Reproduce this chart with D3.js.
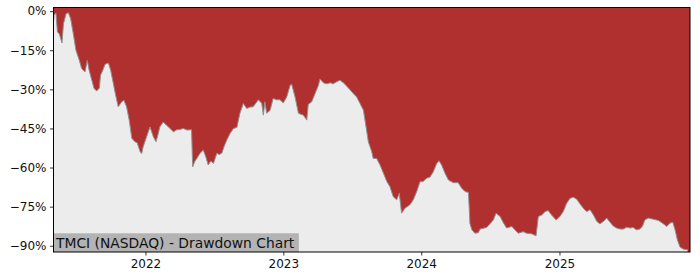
<!DOCTYPE html>
<html><head><meta charset="utf-8">
<script src="https://cdn.jsdelivr.net/npm/d3@7"></script>
<style>
html,body{margin:0;padding:0;background:#fff;}
svg{display:block;font-family:"DejaVu Sans",sans-serif;}
</style></head>
<body><svg id="c" width="700" height="280"></svg>
<script>
const title = "TMCI (NASDAQ) - Drawdown Chart";
const yTicks = [0, -15, -30, -45, -60, -75, -90];
const xTickYears = ["2022", "2023", "2024", "2025"];
const dates = [
"2021-05-03","2021-05-04","2021-05-09","2021-05-13","2021-05-18","2021-05-25","2021-05-29","2021-06-05","2021-06-11","2021-06-17",
"2021-06-24","2021-07-01","2021-07-10","2021-07-16","2021-07-25","2021-07-31","2021-08-05","2021-08-12","2021-08-18","2021-08-25",
"2021-09-01","2021-09-04","2021-09-10","2021-09-16","2021-09-25","2021-10-01","2021-10-08","2021-10-14","2021-10-21","2021-10-30",
"2021-11-05","2021-11-12","2021-11-19","2021-11-26","2021-12-04","2021-12-10","2021-12-18","2021-12-22","2021-12-26","2022-01-04",
"2022-01-13","2022-01-22","2022-01-29","2022-02-04","2022-02-08","2022-02-17","2022-02-26","2022-03-07","2022-03-16","2022-03-25",
"2022-04-02","2022-04-11","2022-04-21","2022-05-03","2022-05-06","2022-05-12","2022-05-17","2022-05-25","2022-06-03","2022-06-10",
"2022-06-16","2022-06-23","2022-06-30","2022-07-09","2022-07-15","2022-07-22","2022-07-28","2022-08-04","2022-08-13","2022-08-22",
"2022-08-31","2022-09-08","2022-09-17","2022-09-26","2022-10-05","2022-10-13","2022-10-27","2022-11-05","2022-11-09","2022-11-13",
"2022-11-18","2022-11-27","2022-12-05","2022-12-14","2022-12-23","2023-01-01","2023-01-10","2023-01-19","2023-01-23","2023-02-01",
"2023-02-10","2023-02-23","2023-03-04","2023-03-08","2023-03-17","2023-03-26","2023-04-04","2023-04-08","2023-04-17","2023-04-26",
"2023-05-05","2023-05-13","2023-05-22","2023-05-31","2023-06-09","2023-06-18","2023-06-26","2023-07-05","2023-07-14","2023-07-23",
"2023-08-01","2023-08-08","2023-08-14","2023-08-23","2023-08-27","2023-09-05","2023-09-14","2023-09-23","2023-10-02","2023-10-10",
"2023-10-19","2023-10-28","2023-11-04","2023-11-10","2023-11-19","2023-12-02","2023-12-11","2023-12-20","2023-12-29","2024-01-06",
"2024-01-15","2024-01-24","2024-02-02","2024-02-11","2024-02-17","2024-02-24","2024-03-04","2024-03-13","2024-03-26","2024-04-08",
"2024-04-17","2024-04-26","2024-05-05","2024-05-09","2024-05-14","2024-05-22","2024-05-31","2024-06-05","2024-06-22","2024-07-01",
"2024-07-10","2024-07-17","2024-07-28","2024-08-05","2024-08-14","2024-08-28","2024-09-05","2024-09-14","2024-09-27","2024-10-06",
"2024-10-19","2024-10-31","2024-11-06","2024-11-15","2024-11-24","2024-12-02","2024-12-11","2024-12-23","2025-01-02","2025-01-11",
"2025-01-20","2025-01-29","2025-02-07","2025-02-16","2025-02-24","2025-03-05","2025-03-14","2025-03-23","2025-04-01","2025-04-10",
"2025-04-18","2025-04-27","2025-05-06","2025-05-15","2025-05-23","2025-06-01","2025-06-10","2025-06-19","2025-06-28","2025-07-07",
"2025-07-15","2025-07-24","2025-08-02","2025-08-09","2025-08-15","2025-08-24","2025-09-06","2025-09-20","2025-10-03","2025-10-12",
"2025-10-21","2025-10-28","2025-11-03","2025-11-09","2025-11-16","2025-11-25","2025-12-06"
];
const drawdown = [
-4.0,-1.6,-0.7,-8.0,-8.7,-12.2,-4.8,-1.0,-0.6,-2.9,
-8.7,-15.0,-18.9,-22.0,-23.3,-18.9,-22.7,-26.5,-29.7,-30.6,
-29.5,-24.6,-22.7,-20.4,-19.9,-22.7,-27.8,-32.2,-36.7,-34.8,
-34.2,-36.7,-41.8,-48.8,-50.1,-50.5,-53.9,-54.6,-52.0,-48.2,
-44.4,-48.2,-50.1,-46.9,-44.4,-42.5,-43.8,-45.0,-46.3,-45.5,
-45.4,-45.0,-45.6,-45.5,-59.7,-57.5,-56.5,-54.6,-53.3,-56.0,
-59.0,-57.5,-58.4,-54.5,-55.0,-54.5,-52.0,-49.5,-46.9,-45.0,
-44.6,-39.2,-35.4,-37.3,-36.8,-36.7,-34.0,-35.4,-39.9,-34.8,
-39.2,-38.0,-33.5,-34.0,-34.0,-35.2,-32.9,-28.4,-28.0,-32.9,
-39.2,-39.9,-41.8,-35.7,-34.8,-31.6,-28.4,-26.0,-27.5,-27.9,
-27.5,-27.9,-27.1,-26.5,-27.5,-28.8,-30.1,-31.6,-32.9,-35.4,
-38.0,-44.4,-50.1,-53.9,-56.5,-56.5,-59.0,-62.2,-65.4,-67.3,
-71.2,-72.4,-69.9,-77.5,-75.6,-74.3,-72.4,-69.2,-65.4,-65.4,
-64.1,-63.7,-61.6,-58.4,-57.4,-59.0,-62.2,-64.8,-65.8,-65.8,
-67.9,-69.2,-69.6,-81.5,-83.9,-85.2,-85.0,-83.6,-83.0,-81.6,
-80.1,-77.5,-78.8,-81.1,-83.2,-82.6,-83.9,-85.2,-84.6,-85.2,
-85.4,-86.2,-78.8,-78.2,-76.9,-76.5,-78.2,-80.1,-78.8,-76.9,
-73.7,-71.8,-71.4,-72.2,-73.9,-75.6,-76.9,-76.2,-78.2,-80.7,
-81.6,-80.7,-79.4,-81.0,-82.4,-83.2,-83.6,-83.6,-82.9,-83.2,
-83.0,-83.9,-83.6,-82.4,-80.1,-79.4,-79.8,-80.3,-81.6,-82.6,
-81.3,-81.0,-83.9,-87.7,-90.5,-91.3,-91.5
];

const parse = d3.timeParse("%Y-%m-%d");
const data = dates.map((d, i) => ({date: parse(d), v: drawdown[i]}));

const m = {left: 53.5, top: 7.5, right: 690, bottom: 252};
const svg = d3.select("#c");

const x = d3.scaleTime()
  .domain([new Date(2021, 4, 2, 14), new Date(2025, 11, 12, 12)])
  .range([m.left, m.right]);
const y = d3.scaleLinear().domain([1.4, -92.4]).range([m.top, m.bottom]);

svg.append("rect").attr("x", m.left).attr("y", m.top)
  .attr("width", m.right - m.left).attr("height", m.bottom - m.top)
  .attr("fill", "#b03030");

const area = d3.area().x(d => x(d.date)).y0(m.bottom).y1(d => y(d.v));
svg.append("path").datum(data).attr("d", area).attr("fill", "#ececec");

const line = d3.line().x(d => x(d.date)).y(d => y(d.v));
svg.append("path").datum(data).attr("d", line)
  .attr("fill", "none").attr("stroke", "#909090").attr("stroke-width", 1);

const lbl = svg.append("g");
const txt = lbl.append("text").attr("x", m.left + 2.5).attr("y", 247.5)
  .attr("font-size", 13.85).attr("fill", "#111").text(title);
const bb = txt.node().getBBox();
lbl.insert("rect", "text").attr("x", m.left).attr("y", 233.3)
  .attr("width", bb.width + 5.5).attr("height", m.bottom - 233.3)
  .attr("fill", "#b3b3b3");

const yAxis = d3.axisLeft(y).tickValues(yTicks)
  .tickFormat(d => (d < 0 ? "\u2212" + Math.abs(d) : d) + "%")
  .tickSize(3.5).tickPadding(3.5);
const gy = svg.append("g").attr("transform", `translate(${m.left},0)`).call(yAxis);
const xAxis = d3.axisBottom(x)
  .tickValues(xTickYears.map(s => parse(s + "-01-01")))
  .tickFormat(d3.timeFormat("%Y")).tickSize(3.5).tickPadding(3.5);
const gx = svg.append("g").attr("transform", `translate(0,${m.bottom})`).call(xAxis);
[gx, gy].forEach(g => {
  g.select(".domain").remove();
  g.selectAll("text").attr("font-size", 12).attr("fill", "#111")
    .attr("font-family", "DejaVu Sans");
  g.selectAll("line").attr("stroke", "#000").attr("stroke-width", 0.8);
});

svg.append("rect").attr("x", m.left).attr("y", m.top)
  .attr("width", m.right - m.left).attr("height", m.bottom - m.top)
  .attr("fill", "none").attr("stroke", "#000").attr("stroke-width", 1);
</script></body></html>
